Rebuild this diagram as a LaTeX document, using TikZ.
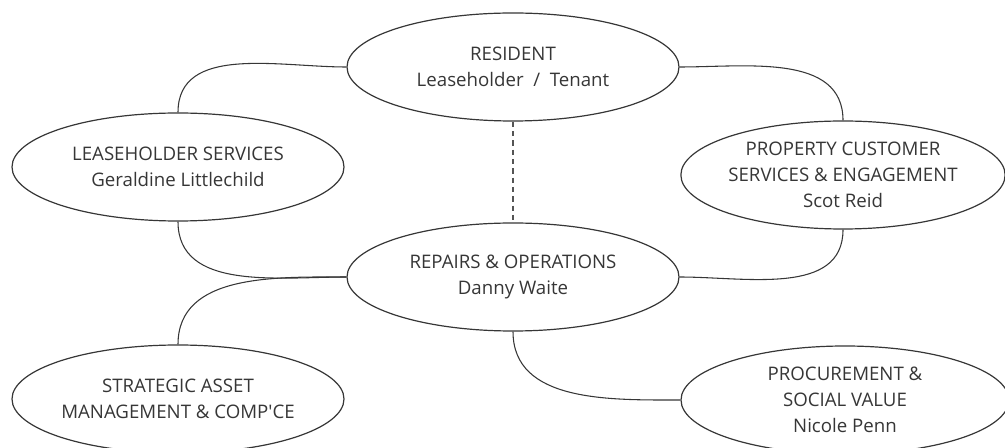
\documentclass[tikz,border=0pt]{standalone}
\usepackage{fontspec}
\setmainfont{Open Sans}
\usetikzlibrary{shapes.geometric}
\definecolor{inkgray}{HTML}{363636}
\tikzset{
  unit/.style = {ellipse, draw=inkgray, line width=0.9pt, inner sep=0pt, align=center,
                 text=inkgray, minimum width=249pt, minimum height=81pt,
                 font=\fontsize{14}{19.5}\selectfont},
  link/.style = {draw=inkgray, line width=0.8pt},
  dlink/.style = {draw=inkgray!85, line width=0.8pt, dash pattern=on 4pt off 3pt},
}

\begin{document}
\begin{tikzpicture}[x=0.75pt, y=-0.75pt]
  \useasboundingbox (0,0) rectangle (1005,448);
  \node [unit] (res)   at (513,67)  {RESIDENT\\Leaseholder~~/~~Tenant};
  \node [unit] (lease) at (178,167) {LEASEHOLDER SERVICES\\Geraldine Littlechild};
  \node [unit, minimum width=243pt] (prop) at (843,175) {PROPERTY CUSTOMER\\SERVICES \& ENGAGEMENT\\Scot Reid};
  \node [unit] (rep)   at (513,277) {REPAIRS \& OPERATIONS\\Danny Waite};
  \node [unit] (strat) at (178,399) {STRATEGIC ASSET\\MANAGEMENT \& COMP\textquotesingle CE};
  \node [unit, minimum width=246pt] (proc) at (845,400) {PROCUREMENT \&\\SOCIAL VALUE\\Nicole Penn};

  % links
  \draw [link] (res.west) to[out=180, in=90] (lease.north);
  \draw [link] (res.east) to[out=0, in=90] (prop.north);
  \draw [dlink] (res.south) -- (rep.north);
  \draw [link] (lease.south) to[out=-90, in=180] (rep.west);
  \draw [link] (rep.west) to[out=180, in=90] (strat.north);
  \draw [link] (rep.east) to[out=0, in=-90] (prop.south);
  \draw [link] (rep.south) to[out=-90, in=180] (proc.west);
\end{tikzpicture}
\end{document}
